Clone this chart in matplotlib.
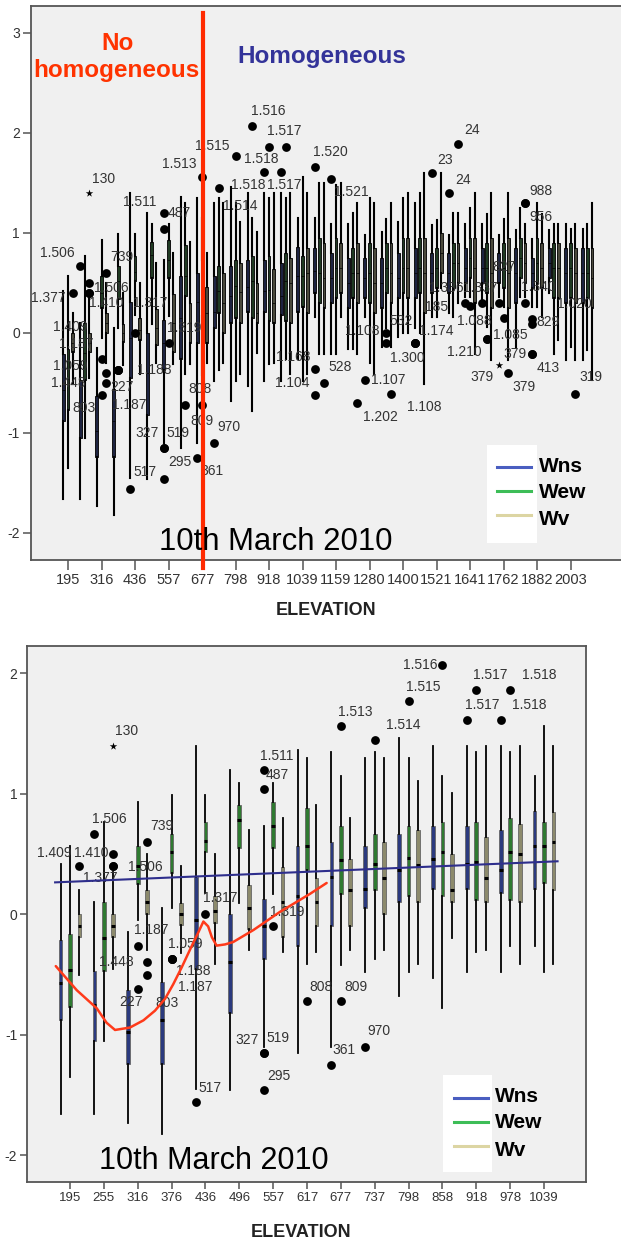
import matplotlib
matplotlib.use('Agg')
import matplotlib.pyplot as plt
from matplotlib.patches import Rectangle
from matplotlib.lines import Line2D

plt.rcParams['font.family'] = ['Liberation Sans', 'DejaVu Sans']
plt.rcParams['axes.unicode_minus'] = False

W, H, DPI = 621, 1242, 100
PT = 72.0 / DPI

elevations = [195, 255, 316, 376, 436, 496, 557, 617, 677, 737, 798, 858, 918, 978, 1039,
              1099, 1159, 1219, 1280, 1340, 1400, 1461, 1521, 1581, 1641, 1701, 1762, 1822,
              1882, 1942, 2003, 2063]
series = ['Wns', 'Wew', 'Wv']

# whisker low, Q1, median, Q3, whisker high for every elevation
wns_stats = [
    [-1.66, -0.88, -0.57, -0.21, 0.42], [-1.66, -1.05, -0.75, -0.47, 0.10],
    [-1.73, -1.24, -0.98, -0.63, -0.15], [-1.82, -1.24, -0.88, -0.56, 0.05],
    [-1.45, -0.45, -0.05, 0.31, 1.40], [-1.46, -0.82, -0.40, 0.00, 1.20],
    [-1.10, -0.37, -0.10, 0.13, 0.73], [-1.15, -0.26, 0.15, 0.57, 1.36],
    [-1.10, -0.10, 0.31, 0.60, 1.35], [-0.48, 0.05, 0.21, 0.57, 1.30],
    [-0.68, 0.10, 0.37, 0.67, 1.46], [-0.53, 0.21, 0.46, 0.73, 1.40],
    [-0.48, 0.21, 0.42, 0.73, 1.40], [-0.48, 0.18, 0.37, 0.70, 1.40],
    [-0.26, 0.21, 0.57, 0.86, 1.15], [0.16, 0.40, 0.62, 0.85, 1.15],
    [-0.21, 0.30, 0.55, 0.80, 1.09], [-0.16, 0.25, 0.50, 0.75, 1.09],
    [0.16, 0.35, 0.55, 0.75, 0.98], [-0.14, 0.25, 0.50, 0.75, 1.01],
    [-0.04, 0.35, 0.55, 0.80, 1.11], [0.05, 0.35, 0.60, 0.85, 1.30],
    [0.16, 0.40, 0.60, 0.80, 1.08], [0.20, 0.40, 0.60, 0.80, 0.98],
    [0.36, 0.50, 0.65, 0.85, 1.09], [0.33, 0.50, 0.65, 0.85, 1.09],
    [0.36, 0.50, 0.65, 0.80, 0.98], [-0.15, 0.30, 0.60, 0.85, 1.03],
    [0.26, 0.45, 0.60, 0.75, 0.94], [0.40, 0.55, 0.70, 0.85, 1.03],
    [-0.27, 0.30, 0.60, 0.85, 1.09], [-0.27, 0.30, 0.60, 0.85, 1.04],
]
wew_stats = [
    [-1.35, -0.77, -0.46, -0.16, 0.57], [-1.05, -0.47, -0.20, 0.10, 0.77],
    [-0.05, 0.25, 0.40, 0.57, 0.93], [0.05, 0.34, 0.52, 0.67, 0.99],
    [0.18, 0.52, 0.61, 0.77, 0.99], [0.09, 0.55, 0.78, 0.91, 1.09],
    [0.17, 0.55, 0.73, 0.93, 1.09], [-0.41, 0.37, 0.57, 0.88, 1.30],
    [-0.42, 0.17, 0.45, 0.73, 1.15], [-0.37, 0.20, 0.42, 0.67, 1.35],
    [-0.48, 0.15, 0.47, 0.73, 1.30], [-0.78, 0.15, 0.52, 0.77, 1.15],
    [-0.31, 0.12, 0.43, 0.77, 1.35], [-0.26, 0.12, 0.52, 0.80, 1.35],
    [-0.48, 0.26, 0.57, 0.77, 1.56], [-0.21, 0.30, 0.60, 0.95, 1.50],
    [-0.21, 0.35, 0.65, 0.95, 1.48], [-0.16, 0.35, 0.60, 0.85, 1.20],
    [-0.30, 0.30, 0.60, 0.90, 1.35], [0.05, 0.40, 0.65, 0.90, 1.14],
    [0.00, 0.40, 0.65, 0.95, 1.35], [0.00, 0.40, 0.65, 0.95, 1.40],
    [0.16, 0.45, 0.65, 0.85, 1.13], [0.16, 0.45, 0.70, 0.90, 1.20],
    [0.36, 0.55, 0.75, 0.95, 1.25], [0.06, 0.40, 0.65, 0.90, 1.19],
    [0.26, 0.45, 0.65, 0.90, 1.14], [0.36, 0.55, 0.75, 0.95, 1.25],
    [0.26, 0.50, 0.70, 0.95, 1.30], [-0.21, 0.35, 0.65, 0.90, 1.09],
    [-0.14, 0.35, 0.65, 0.90, 1.04], [-0.17, 0.35, 0.60, 0.85, 1.09],
]
wv_stats = [
    [-0.50, -0.19, -0.10, 0.00, 0.20], [-0.45, -0.19, -0.10, 0.00, 0.35],
    [-0.30, 0.00, 0.10, 0.20, 0.50], [-0.32, -0.09, 0.00, 0.09, 0.40],
    [-0.41, -0.07, 0.03, 0.15, 0.50], [-0.30, -0.12, 0.05, 0.24, 0.70],
    [-0.31, -0.19, 0.10, 0.39, 0.80], [-0.31, -0.10, 0.10, 0.30, 0.91],
    [-0.30, -0.10, 0.20, 0.46, 0.80], [-0.30, 0.00, 0.30, 0.60, 1.30],
    [-0.41, 0.10, 0.41, 0.70, 1.11], [-0.20, 0.10, 0.20, 0.50, 1.01],
    [-0.30, 0.10, 0.30, 0.64, 1.40], [-0.41, 0.10, 0.50, 0.75, 1.40],
    [-0.41, 0.20, 0.60, 0.85, 1.40], [-0.21, 0.25, 0.55, 0.90, 1.50],
    [0.16, 0.40, 0.65, 0.90, 1.50], [-0.21, 0.30, 0.60, 0.90, 1.30],
    [-0.41, 0.20, 0.50, 0.85, 1.30], [-0.14, 0.30, 0.60, 0.90, 1.30],
    [0.00, 0.35, 0.65, 0.95, 1.40], [-0.51, 0.20, 0.60, 0.95, 1.60],
    [0.45, 0.60, 0.80, 1.00, 1.60], [0.30, 0.50, 0.70, 0.90, 1.20],
    [-0.21, 0.30, 0.65, 0.95, 1.40], [-0.27, 0.25, 0.60, 0.95, 1.40],
    [-0.27, 0.25, 0.60, 0.95, 1.40], [0.36, 0.50, 0.70, 0.90, 1.09],
    [0.16, 0.45, 0.65, 0.90, 1.19], [-0.07, 0.35, 0.65, 0.90, 1.09],
    [-0.27, 0.30, 0.60, 0.85, 1.09], [-0.47, 0.25, 0.55, 0.85, 1.30],
]
box_stats = [wns_stats, wew_stats, wv_stats]

# (elevation index, series index, value, case id, kind)
outliers = [
    (0, 2, 0.40, '1.409', 'o'), (1, 2, 0.50, '1.410', 'o'), (1, 2, 0.40, '1.377', 'o'),
    (1, 2, 0.40, '1.506', 'o'), (1, 0, 0.67, '1.506', 'o'), (1, 2, 1.40, '130', '*'),
    (2, 2, 0.60, '739', 'o'), (2, 1, -0.26, '1.187', 'o'), (2, 2, -0.40, '1.448', 'o'),
    (2, 2, -0.50, '803', 'o'), (2, 1, -0.62, '227', 'o'), (3, 1, -0.37, '1.059', 'o'),
    (3, 1, -0.37, '1.188', 'o'), (3, 1, -0.37, '1.187', 'o'), (4, 1, 0.00, '1.317', 'o'),
    (6, 1, -0.10, '1.319', 'o'), (6, 0, 1.20, '1.511', 'o'), (6, 0, 1.04, '487', 'o'),
    (4, 0, -1.56, '517', 'o'), (6, 0, -1.15, '327', 'o'), (6, 0, -1.15, '519', 'o'),
    (6, 0, -1.46, '295', 'o'), (7, 1, -0.72, '808', 'o'), (8, 1, -0.72, '809', 'o'),
    (8, 0, -1.25, '361', 'o'), (9, 0, -1.10, '970', 'o'), (8, 1, 1.56, '1.513', 'o'),
    (9, 1, 1.45, '1.514', 'o'), (10, 1, 1.77, '1.515', 'o'), (11, 1, 2.07, '1.516', 'o'),
    (12, 0, 1.61, '1.517', 'o'), (12, 1, 1.86, '1.517', 'o'), (13, 0, 1.61, '1.518', 'o'),
    (13, 1, 1.86, '1.518', 'o'), (15, 0, 1.66, '1.520', 'o'), (16, 0, 1.54, '1.521', 'o'),
    (15, 0, -0.36, '1.168', 'o'), (15, 0, -0.62, '1.104', 'o'), (15, 2, -0.50, '528', 'o'),
    (18, 0, -0.47, '1.107', 'o'), (17, 2, -0.70, '1.202', 'o'), (19, 1, 0.00, '532', 'o'),
    (19, 1, -0.10, '1.108', 'o'), (19, 2, -0.61, '1.108', 'o'), (21, 0, -0.10, '1.300', 'o'),
    (21, 0, -0.10, '1.174', 'o'), (21, 0, -0.10, '185', 'o'), (22, 0, 1.60, '23', 'o'),
    (23, 2, 1.89, '24', 'o'), (23, 0, 1.40, '24', 'o'), (24, 0, 0.30, '1.336', 'o'),
    (24, 1, 0.27, '1.088', 'o'), (25, 0, 0.30, '1.337', 'o'), (25, 1, -0.06, '1.085', 'o'),
    (25, 1, -0.06, '1.210', 'o'), (26, 0, 0.30, '827', 'o'), (26, 1, 0.15, '', 'o'),
    (26, 0, -0.32, '379', '*'), (26, 2, -0.40, '379', 'o'), (27, 2, 1.30, '988', 'o'),
    (27, 2, 1.30, '956', 'o'), (27, 2, 0.30, '1.340', 'o'), (28, 0, 0.14, '829', 'o'),
    (28, 0, 0.09, '1.020', 'o'), (28, 0, -0.21, '413', 'o'), (28, 0, -0.21, '379', 'o'),
    (30, 2, -0.61, '319', 'o'),
]

# fitted line and hand-sketched curve on the lower chart (elevation index, value)
fit_x = [-0.44, 14.40]
fit_y = [0.265, 0.44]
sketch_x = [-0.42, 0.20, 0.79, 1.08, 1.33, 1.77, 2.17, 2.51, 2.81, 3.05, 3.30, 3.55, 3.79,
            3.94, 4.08, 4.19, 4.33, 4.58, 4.82, 5.42, 6.20, 7.09, 7.58]
sketch_y = [-0.43, -0.63, -0.78, -0.90, -0.96, -0.94, -0.88, -0.80, -0.70, -0.58, -0.44,
            -0.29, -0.15, -0.06, -0.10, -0.19, -0.26, -0.25, -0.23, -0.13, 0.02, 0.17, 0.26]
split_elevation = 677

# label placement (pixel offsets of the case id from its point, +y is up)
top_label_pos = [
    (-2, -34), (17, -20), (-41.5, -5), (21.5, 5), (-23, 13), (14, 14), (15.5, 16),
    (-25, 15), (-37.7, -10), (-22.7, -25), (20.5, 7.6), (-48, 4), (36, 0), (11, -35),
    (15, 30), (16, 15), (-24, 11), (15, 15.5), (14.7, 16.5), (-17, 14.6), (13.7, 14.6),
    (15.7, 16.6), (15, 15.6), (0, -16.4), (15, -13.4), (14.5, 15.6), (-23, 12.6),
    (21.7, -18), (-23.5, 10), (15.7, 15), (19.7, -13), (15, 16), (-33, -13), (-25, -12.4),
    (15.5, 15), (20, -13.4), (-21.5, 11.7), (-22.5, 11.6), (16, 15.4), (23, 0),
    (22.5, -14), (15, 12), (-24, 12), (33, -13.7), (-7.5, -15.6), (21.5, 12), (21.5, 36),
    (13.7, 13), (14, 14), (14, 13), (-19, 14.4), (4.5, -15.3), (-2, 14.4), (23.7, 3.7),
    (-22.7, -13.6), (4.7, 35.4), None, (-17.3, -12.6), (15.3, -14), (16, 12), (16, -14),
    (13, 15.4), (16, -3.6), (42, 19.7), (15.7, -14.6), (-17.3, -0.6), (15.8, 16.3),
]
bottom_label_pos = [
    (-25.5, 13), (-22, 1), (-13, -12), (32, -1), (14.5, 15), (13, 15), (14.5, 16),
    (14, 16), (-30.5, 0), (19.5, -28), (-7, -13), (14, 14.5), (22, -12), (23.5, -28.5),
    (14.6, 16), (14.4, 14), (13, 13.6), (14, 14), (13.6, 14.7), (-17, 13), (14.4, 15),
    (15, 14.6), (14, 13.6), (14.7, 13.6), (13, 15), (14, 16), (14, 14.6), (29, 14.6),
    (15, 14), (-22.4, 0), (15, 15), (14, 15), (28.5, 15), (29, 15),
]

series_shift = [-0.28, 0.0, 0.28]
box_fill = ['#2b3a7e', '#2f7a31', '#8c8a6c']
# at the compressed scale the same fills read almost black
box_fill_dark = ['#1d2340', '#1f3a22', '#4a493c']
legend_color = ['#4a5ec0', '#3dbd57', '#dcd5a3']
panel_bg = '#f0f0f0'
frame = '#555555'


def fx(px):
    return px / W


def fy(py):
    return 1 - py / H


def draw_boxes(ax, ncat, box_w, whisk_lw, med_lw, fills, edge, edge_lw):
    for s, stats in enumerate(box_stats):
        rows = [dict(whislo=r[0], q1=r[1], med=r[2], q3=r[3], whishi=r[4], fliers=[])
                for r in stats[:ncat]]
        pos = [i + series_shift[s] for i in range(ncat)]
        ax.bxp(rows, positions=pos, widths=box_w, patch_artist=True,
               showcaps=False, showfliers=False, manage_ticks=False,
               boxprops=dict(facecolor=fills[s], edgecolor=edge, linewidth=edge_lw),
               whiskerprops=dict(color='black', linewidth=whisk_lw),
               medianprops=dict(color='black', linewidth=med_lw, solid_capstyle='butt'))


def draw_outliers(ax, ncat, label_pos):
    for k, (cat, s, val, case, kind) in enumerate(outliers):
        if cat >= ncat:
            continue
        x = cat + series_shift[s]
        if kind == '*':
            ax.scatter([x], [val], marker='*', s=32, color='black', linewidths=0, zorder=5)
        else:
            ax.scatter([x], [val], s=40, color='black', linewidths=0, zorder=5)
        off = label_pos[k]
        if case and off is not None:
            ax.annotate(case, (x, val), xytext=(off[0] * PT, off[1] * PT),
                        textcoords='offset points', ha='center', va='center',
                        fontsize=10, color='#333333', zorder=6)


def style_axes(ax, xticks, xlabels, yticks, xlen, ylen, xsize):
    ax.set_facecolor(panel_bg)
    for sp in ax.spines.values():
        sp.set_color(frame)
        sp.set_linewidth(1.3)
    ax.set_xticks(xticks)
    ax.set_xticklabels(xlabels)
    ax.set_yticks(yticks)
    ax.set_yticklabels([str(t) for t in yticks])
    ax.tick_params(axis='x', direction='out', length=xlen, width=1.1, color=frame,
                   labelsize=xsize, labelcolor='#333333', pad=2.5)
    ax.tick_params(axis='y', direction='out', length=ylen, width=1.1, color=frame,
                   labelsize=10, labelcolor='#333333', pad=2)


def draw_legend(x0, y0, x1, y1, line_x0, line_x1, line_ys, text_x, text_ys):
    fig.add_artist(Rectangle((fx(x0), fy(y1)), fx(x1) - fx(x0), fy(y0) - fy(y1),
                             transform=fig.transFigure, facecolor='white',
                             edgecolor='none', zorder=10))
    for s, name in enumerate(series):
        fig.add_artist(Line2D([fx(line_x0), fx(line_x1)], [fy(line_ys[s])] * 2,
                              transform=fig.transFigure, color=legend_color[s],
                              linewidth=2.2, zorder=11))
        fig.text(fx(text_x), fy(text_ys[s]), name, ha='left', va='center',
                 fontsize=15, fontweight='bold', color='black', zorder=11)


fig = plt.figure(figsize=(W / DPI, H / DPI), dpi=DPI)

# upper chart: all elevations
ax1 = fig.add_axes([fx(31), fy(560), (625 - 31) / W, (560 - 6) / H])
n_all = len(elevations)
draw_boxes(ax1, n_all, 0.17, 1.5, 0.5, box_fill_dark, '#111111', 0.7)
draw_outliers(ax1, n_all, top_label_pos)
ax1.set_xlim(-2.21, 33.25)
ax1.set_ylim(-2.275, 3.27)
style_axes(ax1, list(range(0, n_all, 2)), [str(e) for e in elevations[::2]],
           [-2, -1, 0, 1, 2, 3], 7, 6, 10.5)

split_x = elevations.index(split_elevation) + 0.08
ax1.plot([split_x, split_x], [3.197, -2.355], color='#ff2a00', linewidth=3,
         clip_on=False, zorder=8)

fig.text(fx(117.5), fy(50), 'No', ha='center', va='baseline', fontsize=17.5,
         fontweight='bold', color='#ff3300')
fig.text(fx(116.5), fy(77), 'homogeneous', ha='center', va='baseline', fontsize=17.5,
         fontweight='bold', color='#ff3300')
fig.text(fx(321.5), fy(63), 'Homogeneous', ha='center', va='baseline', fontsize=17.5,
         fontweight='bold', color='#333399')
fig.text(fx(276), fy(550), '10th March 2010', ha='center', va='baseline', fontsize=22.4,
         color='black', zorder=9)
fig.text(fx(326), fy(615), 'ELEVATION', ha='center', va='baseline', fontsize=13,
         fontweight='bold', color='#222222')
draw_legend(487, 445, 537, 543, 497, 531, [466.7, 491, 515], 539, [466, 492, 519])

# lower chart: first fifteen elevations
ax2 = fig.add_axes([fx(27), fy(1182), (586 - 27) / W, (1182 - 646) / H])
n_low = 15
draw_boxes(ax2, n_low, 0.11, 1.3, 2.2, box_fill, '#666666', 0.6)
draw_outliers(ax2, n_low, bottom_label_pos)
ax2.plot(fit_x, fit_y, color='#2e2e8c', linewidth=1.5, zorder=7)
ax2.plot(sketch_x, sketch_y, color='#ff3a1a', linewidth=1.8, zorder=7,
         solid_joinstyle='round', solid_capstyle='round')
ax2.set_xlim(-1.27, 15.24)
ax2.set_ylim(-2.222, 2.227)
style_axes(ax2, list(range(n_low)), [str(e) for e in elevations[:n_low]],
           [-2, -1, 0, 1, 2], 5, 5, 9.5)

fig.text(fx(214), fy(1169), '10th March 2010', ha='center', va='baseline', fontsize=22,
         color='black', zorder=9)
fig.text(fx(301.5), fy(1237), 'ELEVATION', ha='center', va='baseline', fontsize=13,
         fontweight='bold', color='#222222')
draw_legend(443, 1075, 492, 1172, 454, 488, [1098.3, 1121.7, 1145.7], 495,
            [1096, 1123, 1150])

fig.savefig('out.png', dpi=DPI)
